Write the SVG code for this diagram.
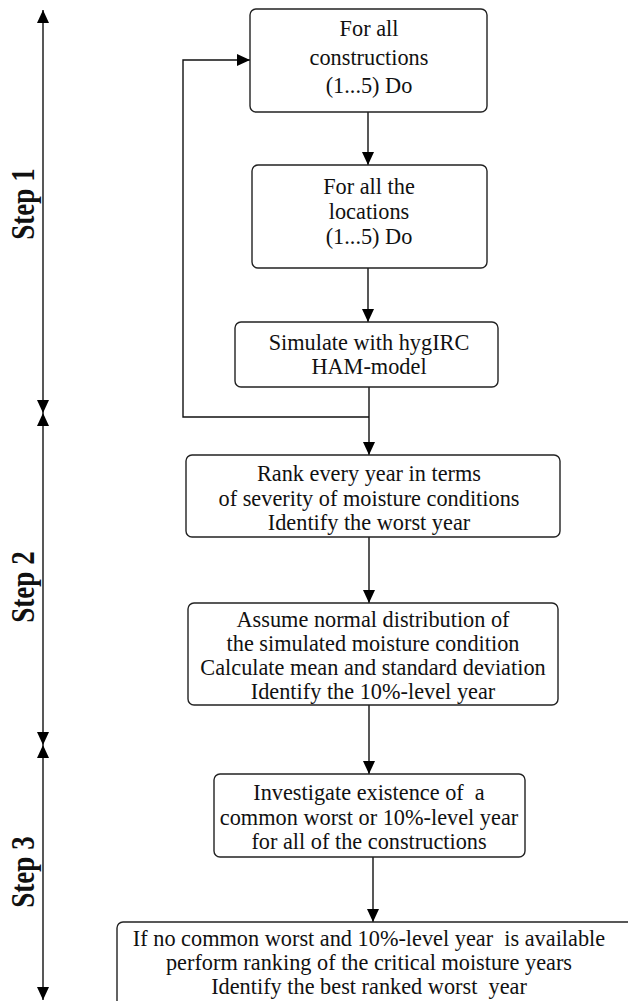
<svg xmlns="http://www.w3.org/2000/svg" width="628" height="1001" viewBox="0 0 628 1001">
<defs>
<marker id="ah" viewBox="0 0 13 12" markerWidth="13" markerHeight="12" refX="13" refY="6" orient="auto-start-reverse" markerUnits="userSpaceOnUse">
<path d="M0,0 L13,6 L0,12 z" fill="#000"/>
</marker>
<style>
.box{fill:#fff;stroke:#222;stroke-width:1.4}
.t{font-family:"Liberation Serif","Times New Roman",serif;font-size:23px;fill:#111;text-anchor:middle}
.step{font-family:"Liberation Serif","Times New Roman",serif;font-size:33px;font-weight:bold;fill:#111;text-anchor:middle}
.c{fill:none;stroke:#111;stroke-width:1.4}
.a{fill:none;stroke:#111;stroke-width:1.4;marker-end:url(#ah)}
.d{fill:none;stroke:#111;stroke-width:1.4;marker-start:url(#ah);marker-end:url(#ah)}
</style>
</defs>
<rect width="628" height="1001" fill="#fff"/>

<g id="axis">
<line class="d" x1="43" y1="10" x2="43" y2="413"/>
<line class="d" x1="43" y1="413" x2="43" y2="745"/>
<line class="d" x1="43" y1="745" x2="43" y2="1000"/>
</g>
<g id="step1"><text class="step" transform="translate(34,204) rotate(-90) scale(0.82,1)">Step 1</text></g>
<g id="step2"><text class="step" transform="translate(34,587) rotate(-90) scale(0.82,1)">Step 2</text></g>
<g id="step3"><text class="step" transform="translate(34,872) rotate(-90) scale(0.82,1)">Step 3</text></g>

<g id="connectors">
<line class="a" x1="368" y1="112" x2="368" y2="165"/>
<line class="a" x1="368" y1="268" x2="368" y2="322"/>
<line class="c" x1="369" y1="387" x2="369" y2="417"/>
<line class="a" x1="369" y1="417" x2="369" y2="455"/>
<polyline class="a" points="369,417 183,417 183,60 250,60"/>
<line class="a" x1="369" y1="537" x2="369" y2="603"/>
<line class="a" x1="369" y1="705" x2="369" y2="774"/>
<line class="a" x1="373" y1="857" x2="373" y2="922"/>
</g>

<g id="box1">
<rect class="box" x="250" y="9" width="237" height="103" rx="6"/>
<text class="t" transform="translate(369,36) scale(0.97,1)">For all</text>
<text class="t" transform="translate(369,65) scale(0.97,1)">constructions</text>
<text class="t" transform="translate(369,93) scale(0.97,1)">(1...5) Do</text>
</g>
<g id="box2">
<rect class="box" x="252" y="165" width="235" height="103" rx="6"/>
<text class="t" transform="translate(369,194) scale(0.97,1)">For all the</text>
<text class="t" transform="translate(369,219) scale(0.97,1)">locations</text>
<text class="t" transform="translate(369,244) scale(0.97,1)">(1...5) Do</text>
</g>
<g id="box3">
<rect class="box" x="235" y="322" width="263" height="65" rx="6"/>
<text class="t" transform="translate(369,350) scale(0.97,1)">Simulate with hygIRC</text>
<text class="t" transform="translate(369,374) scale(0.97,1)">HAM-model</text>
</g>
<g id="box4">
<rect class="box" x="186" y="455" width="374" height="82" rx="6"/>
<text class="t" transform="translate(369,481) scale(0.97,1)">Rank every year in terms</text>
<text class="t" transform="translate(369,506) scale(0.97,1)">of severity of moisture conditions</text>
<text class="t" transform="translate(369,530) scale(0.97,1)">Identify the worst year</text>
</g>
<g id="box5">
<rect class="box" x="188" y="603" width="370" height="102" rx="6"/>
<text class="t" transform="translate(373,627) scale(0.97,1)">Assume normal distribution of</text>
<text class="t" transform="translate(373,651) scale(0.97,1)">the simulated moisture condition</text>
<text class="t" transform="translate(373,675) scale(0.97,1)">Calculate mean and standard deviation</text>
<text class="t" transform="translate(373,699) scale(0.97,1)">Identify the 10%-level year</text>
</g>
<g id="box6">
<rect class="box" x="214" y="774" width="311" height="83" rx="6"/>
<text class="t" transform="translate(369,800) scale(0.97,1)" xml:space="preserve">Investigate existence of  a</text>
<text class="t" transform="translate(369,825) scale(0.97,1)">common worst or 10%-level year</text>
<text class="t" transform="translate(369,849) scale(0.97,1)">for all of the constructions</text>
</g>
<g id="box7">
<rect class="box" x="117" y="922" width="540" height="100" rx="6"/>
<text class="t" transform="translate(369,946) scale(0.97,1)" xml:space="preserve">If no common worst and 10%-level year  is available</text>
<text class="t" transform="translate(369,970) scale(0.97,1)">perform ranking of the critical moisture years</text>
<text class="t" transform="translate(369,994) scale(0.97,1)" xml:space="preserve">Identify the best ranked worst  year</text>
</g>
</svg>
